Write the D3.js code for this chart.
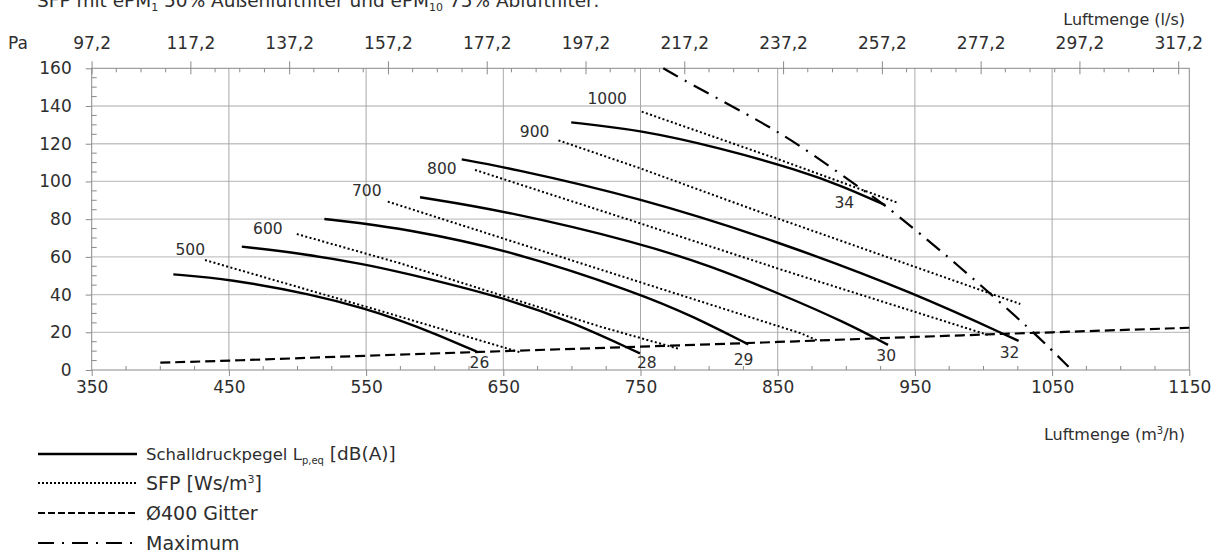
<!DOCTYPE html>
<html>
<head>
<meta charset="utf-8">
<script src="https://cdn.jsdelivr.net/npm/d3@7"></script>
<style>
  body { margin: 0; background: #fff; }
  svg text { font-family: "DejaVu Sans", "Open Sans", sans-serif; fill: #2e2e2e; }
</style>
</head>
<body>
<svg id="chart" width="1216" height="553"></svg>
<script>
// Axis ticks
const flowTicks = [350, 450, 550, 650, 750, 850, 950, 1050, 1150];           // m³/h
const flowLsTicks = [97.2, 117.2, 137.2, 157.2, 177.2, 197.2, 217.2, 237.2, 257.2, 277.2, 297.2, 317.2]; // l/s
const pressureTicks = [0, 20, 40, 60, 80, 100, 120, 140, 160];              // Pa

// Fan curves at constant speed, [m³/h, Pa], labelled with sound pressure level dB(A)
const sound26 = [[409.5, 50.7], [449.6, 48.3], [511.6, 40.0], [549.8, 32.4], [574.8, 26.4], [600, 19.4], [630.7, 9.7]];
const sound28 = [[459.4, 65.4], [501.9, 61.9], [549.8, 56.0], [574.8, 52.0], [650, 38.6], [701, 25.2], [749.6, 8.8]];
const sound29 = [[519.6, 80.1], [549.8, 77.6], [574.8, 75.0], [650, 64.6], [749.6, 40.6], [788.6, 28.3], [828.6, 13.6]];
const sound30 = [[589.3, 91.6], [650, 84.6], [749.6, 67.4], [800.7, 55.2], [851.8, 40.4], [900, 25.0], [930.4, 13.3]];
const sound32 = [[619.7, 111.7], [650, 107.8], [749.6, 91.4], [851.8, 67.8], [950.1, 40.7], [1025.6, 15.4]];
const sound34 = [[699.5, 131.3], [749.6, 127.3], [807.8, 117.8], [866.3, 105.8], [896.8, 97.6], [928.3, 87.5]];
const soundLevels = ["26", "28", "29", "30", "32", "34"];
const soundLabelAt = [[632.6, 3.6], [754.6, 3.9], [825.1, 5.3], [929.1, 7.4], [1019, 8.9], [898.6, 88.4]];

// Iso-SFP lines [m³/h, Pa]
const sfp500 = [[432.6, 58.3], [549.8, 33.6], [662.2, 9.4]];
const sfp600 = [[499.5, 72.1], [574.8, 56.6], [720.7, 23.0], [778.9, 11.0]];
const sfp700 = [[565.8, 89.3], [749.6, 46.6], [866.3, 19.6], [879.6, 15.5]];
const sfp800 = [[629.4, 106.1], [749.6, 77.8], [851.8, 53.4], [1005, 18.2]];
const sfp900 = [[690.2, 121.8], [749.6, 107.0], [851.8, 79.9], [1026.8, 35.0]];
const sfp1000 = [[750.9, 137.0], [851.8, 111.4], [937.8, 88.6]];
const sfpValues = ["500", "600", "700", "800", "900", "1000"];
const sfpLabelAt = [[421.8, 63.4], [478.4, 74.6], [550.5, 94.9], [605.2, 106.6], [672.8, 126.1], [725.7, 143.9]];

// Ø400 grille system curve
const grille400 = [[400, 3.9], [450, 4.9], [550, 7.6], [650, 10.0], [750, 12.4], [850, 14.8], [950, 17.6], [1050, 20.0], [1150, 22.4]];

// Maximum operating limit
const maximum = [[766.6, 160], [783.5, 152.9], [831, 134.3], [851.8, 125.5], [871.2, 116.6], [917.3, 92.8], [928.3, 87.5], [980.1, 56.6], [1037.7, 19.4], [1062, 1.7]];

const svg = d3.select("#chart");
const plotLeft = 91.7, plotRight = 1189.3, plotTop = 68.3, plotBottom = 370;

const x = d3.scaleLinear().domain([350, 1150]).range([plotLeft, plotRight]);
const xLs = d3.scaleLinear().domain([350 / 3.6, 1150 / 3.6]).range([plotLeft, plotRight]);
const y = d3.scaleLinear().domain([0, 160]).range([plotBottom, plotTop]);

// Title (runs off the top edge)
const title = svg.append("text").attr("x", 37).attr("y", 6.5).style("font-size", "18.5px");
title.append("tspan").text("SFP mit ePM");
title.append("tspan").attr("dy", 4).style("font-size", "11px").text("1");
title.append("tspan").attr("dy", -4).text(" 50% Außenluftfilter und ePM");
title.append("tspan").attr("dy", 4).style("font-size", "11px").text("10");
title.append("tspan").attr("dy", -4).text(" 75% Abluftfilter:");

// Grid
const grid = svg.append("g");
grid.selectAll("line.h").data(pressureTicks.filter(d => d > 0 && d < 160)).join("line")
  .attr("x1", plotLeft).attr("x2", plotRight).attr("y1", d => y(d)).attr("y2", d => y(d))
  .attr("stroke", "#c4c4c4").attr("stroke-width", 1.3);
grid.selectAll("line.v").data(flowTicks.filter(d => d > 350 && d < 1150)).join("line")
  .attr("x1", d => x(d)).attr("x2", d => x(d)).attr("y1", plotTop).attr("y2", plotBottom)
  .attr("stroke", "#a8a8a8").attr("stroke-width", 1);

// Minor ticks
const minor = svg.append("g").attr("stroke", "#8a8a8a").attr("stroke-width", 1);
minor.selectAll("line.l").data(d3.range(5, 160, 5).filter(d => d % 20 !== 0)).join("line")
  .attr("x1", plotLeft).attr("x2", plotLeft + 5).attr("y1", d => y(d)).attr("y2", d => y(d));
minor.selectAll("line.b").data(d3.range(375, 1150, 25).filter(d => (d - 350) % 100 !== 0)).join("line")
  .attr("x1", d => x(d)).attr("x2", d => x(d)).attr("y1", plotBottom).attr("y2", plotBottom - 4);
minor.selectAll("line.t").data(d3.range(102.2, 319, 5).filter(d => Math.abs(((d - 97.2) / 20) - Math.round((d - 97.2) / 20)) > 0.01)).join("line")
  .attr("x1", d => xLs(d)).attr("x2", d => xLs(d)).attr("y1", plotTop).attr("y2", plotTop + 4);

// Axes
const fmtLs = d => d.toFixed(1).replace(".", ",");
const gB = svg.append("g").attr("transform", `translate(0,${plotBottom})`)
  .call(d3.axisBottom(x).tickValues(flowTicks).tickSize(6).tickPadding(5).tickFormat(d3.format("d")));
const gL = svg.append("g").attr("transform", `translate(${plotLeft},0)`)
  .call(d3.axisLeft(y).tickValues(pressureTicks).tickSize(6).tickPadding(14).tickFormat(d3.format("d")));
const gT = svg.append("g").attr("transform", `translate(0,${plotTop})`)
  .call(d3.axisTop(xLs).tickValues(flowLsTicks).tickSize(7).tickPadding(12).tickFormat(fmtLs));
gT.selectAll(".tick line").attr("y1", 6);
[gB, gL, gT].forEach(g => {
  g.select(".domain").remove();
  g.selectAll(".tick line").attr("stroke", "#8a8a8a");
  g.selectAll(".tick text").attr("fill", "#2e2e2e").style("font-size", "17px").style("font-family", "DejaVu Sans, sans-serif");
});

// Plot frame
svg.append("rect").attr("x", plotLeft).attr("y", plotTop).attr("width", plotRight - plotLeft).attr("height", plotBottom - plotTop)
  .attr("fill", "none").attr("stroke", "#8a8a8a").attr("stroke-width", 1);

// Axis titles
svg.append("text").attr("x", 8).attr("y", 48.5).style("font-size", "17px").text("Pa");
svg.append("text").attr("x", 1185).attr("y", 25).attr("text-anchor", "end").style("font-size", "16px").text("Luftmenge (l/s)");
const xt = svg.append("text").attr("x", 1185).attr("y", 440).attr("text-anchor", "end").style("font-size", "16px");
xt.append("tspan").text("Luftmenge (m");
xt.append("tspan").attr("dy", -6).style("font-size", "10px").text("3");
xt.append("tspan").attr("dy", 6).text("/h)");

const line = d3.line().x(d => x(d[0])).y(d => y(d[1]));
const smooth = d3.line().x(d => x(d[0])).y(d => y(d[1])).curve(d3.curveBasis);
const plot = svg.append("g").attr("fill", "none").attr("stroke", "#000");

// Grille curve
plot.append("path").attr("d", smooth(grille400)).attr("stroke-width", 2.2).attr("stroke-dasharray", "10,5");

// SFP lines
const sfpLines = [sfp500, sfp600, sfp700, sfp800, sfp900, sfp1000];
plot.selectAll("path.sfp").data(sfpLines).join("path")
  .attr("d", d => line(d)).attr("stroke-width", 2).attr("stroke-dasharray", "2,2.4");

// Fan curves
const soundCurves = [sound26, sound28, sound29, sound30, sound32, sound34];
plot.selectAll("path.snd").data(soundCurves).join("path")
  .attr("d", d => smooth(d)).attr("stroke-width", 2.4);

// Maximum
plot.append("path").attr("d", smooth(maximum)).attr("stroke-width", 2.2).attr("stroke-dasharray", "17,8,2,8");

// Curve labels
svg.append("g").selectAll("text").data(sfpValues).join("text")
  .attr("x", (d, i) => x(sfpLabelAt[i][0])).attr("y", (d, i) => y(sfpLabelAt[i][1]))
  .attr("text-anchor", "middle").attr("dominant-baseline", "central").style("font-size", "15.5px").text(d => d);
svg.append("g").selectAll("text").data(soundLevels).join("text")
  .attr("x", (d, i) => x(soundLabelAt[i][0])).attr("y", (d, i) => y(soundLabelAt[i][1]))
  .attr("text-anchor", "middle").attr("dominant-baseline", "central").style("font-size", "15.5px").text(d => d);

// Legend
const legY = [454, 483, 513, 543];
const leg = svg.append("g");
const legDash = [null, "2,2", "7,3", "16,8,2,8"];
legY.forEach((yy, i) => {
  const l = leg.append("line").attr("x1", 38).attr("x2", 137).attr("y1", yy).attr("y2", yy)
    .attr("stroke", "#000").attr("stroke-width", i === 0 ? 2.6 : 2);
  if (legDash[i]) l.attr("stroke-dasharray", legDash[i]);
});
const t0 = leg.append("text").attr("x", 146).attr("y", legY[0] + 5.5);
t0.append("tspan").style("font-size", "16.5px").text("Schalldruckpegel L");
t0.append("tspan").attr("dy", 4).style("font-size", "10px").text("p,eq");
t0.append("tspan").attr("dy", -4).style("font-size", "18.5px").text(" [dB(A)]");
const t1 = leg.append("text").attr("x", 146).attr("y", legY[1] + 7).style("font-size", "19px");
t1.append("tspan").text("SFP [Ws/m");
t1.append("tspan").attr("dy", -7).style("font-size", "11px").text("3");
t1.append("tspan").attr("dy", 7).text("]");
leg.append("text").attr("x", 146).attr("y", legY[2] + 7).style("font-size", "19px").text("Ø400 Gitter");
leg.append("text").attr("x", 146).attr("y", legY[3] + 7).style("font-size", "19px").text("Maximum");
</script>
</body>
</html>
